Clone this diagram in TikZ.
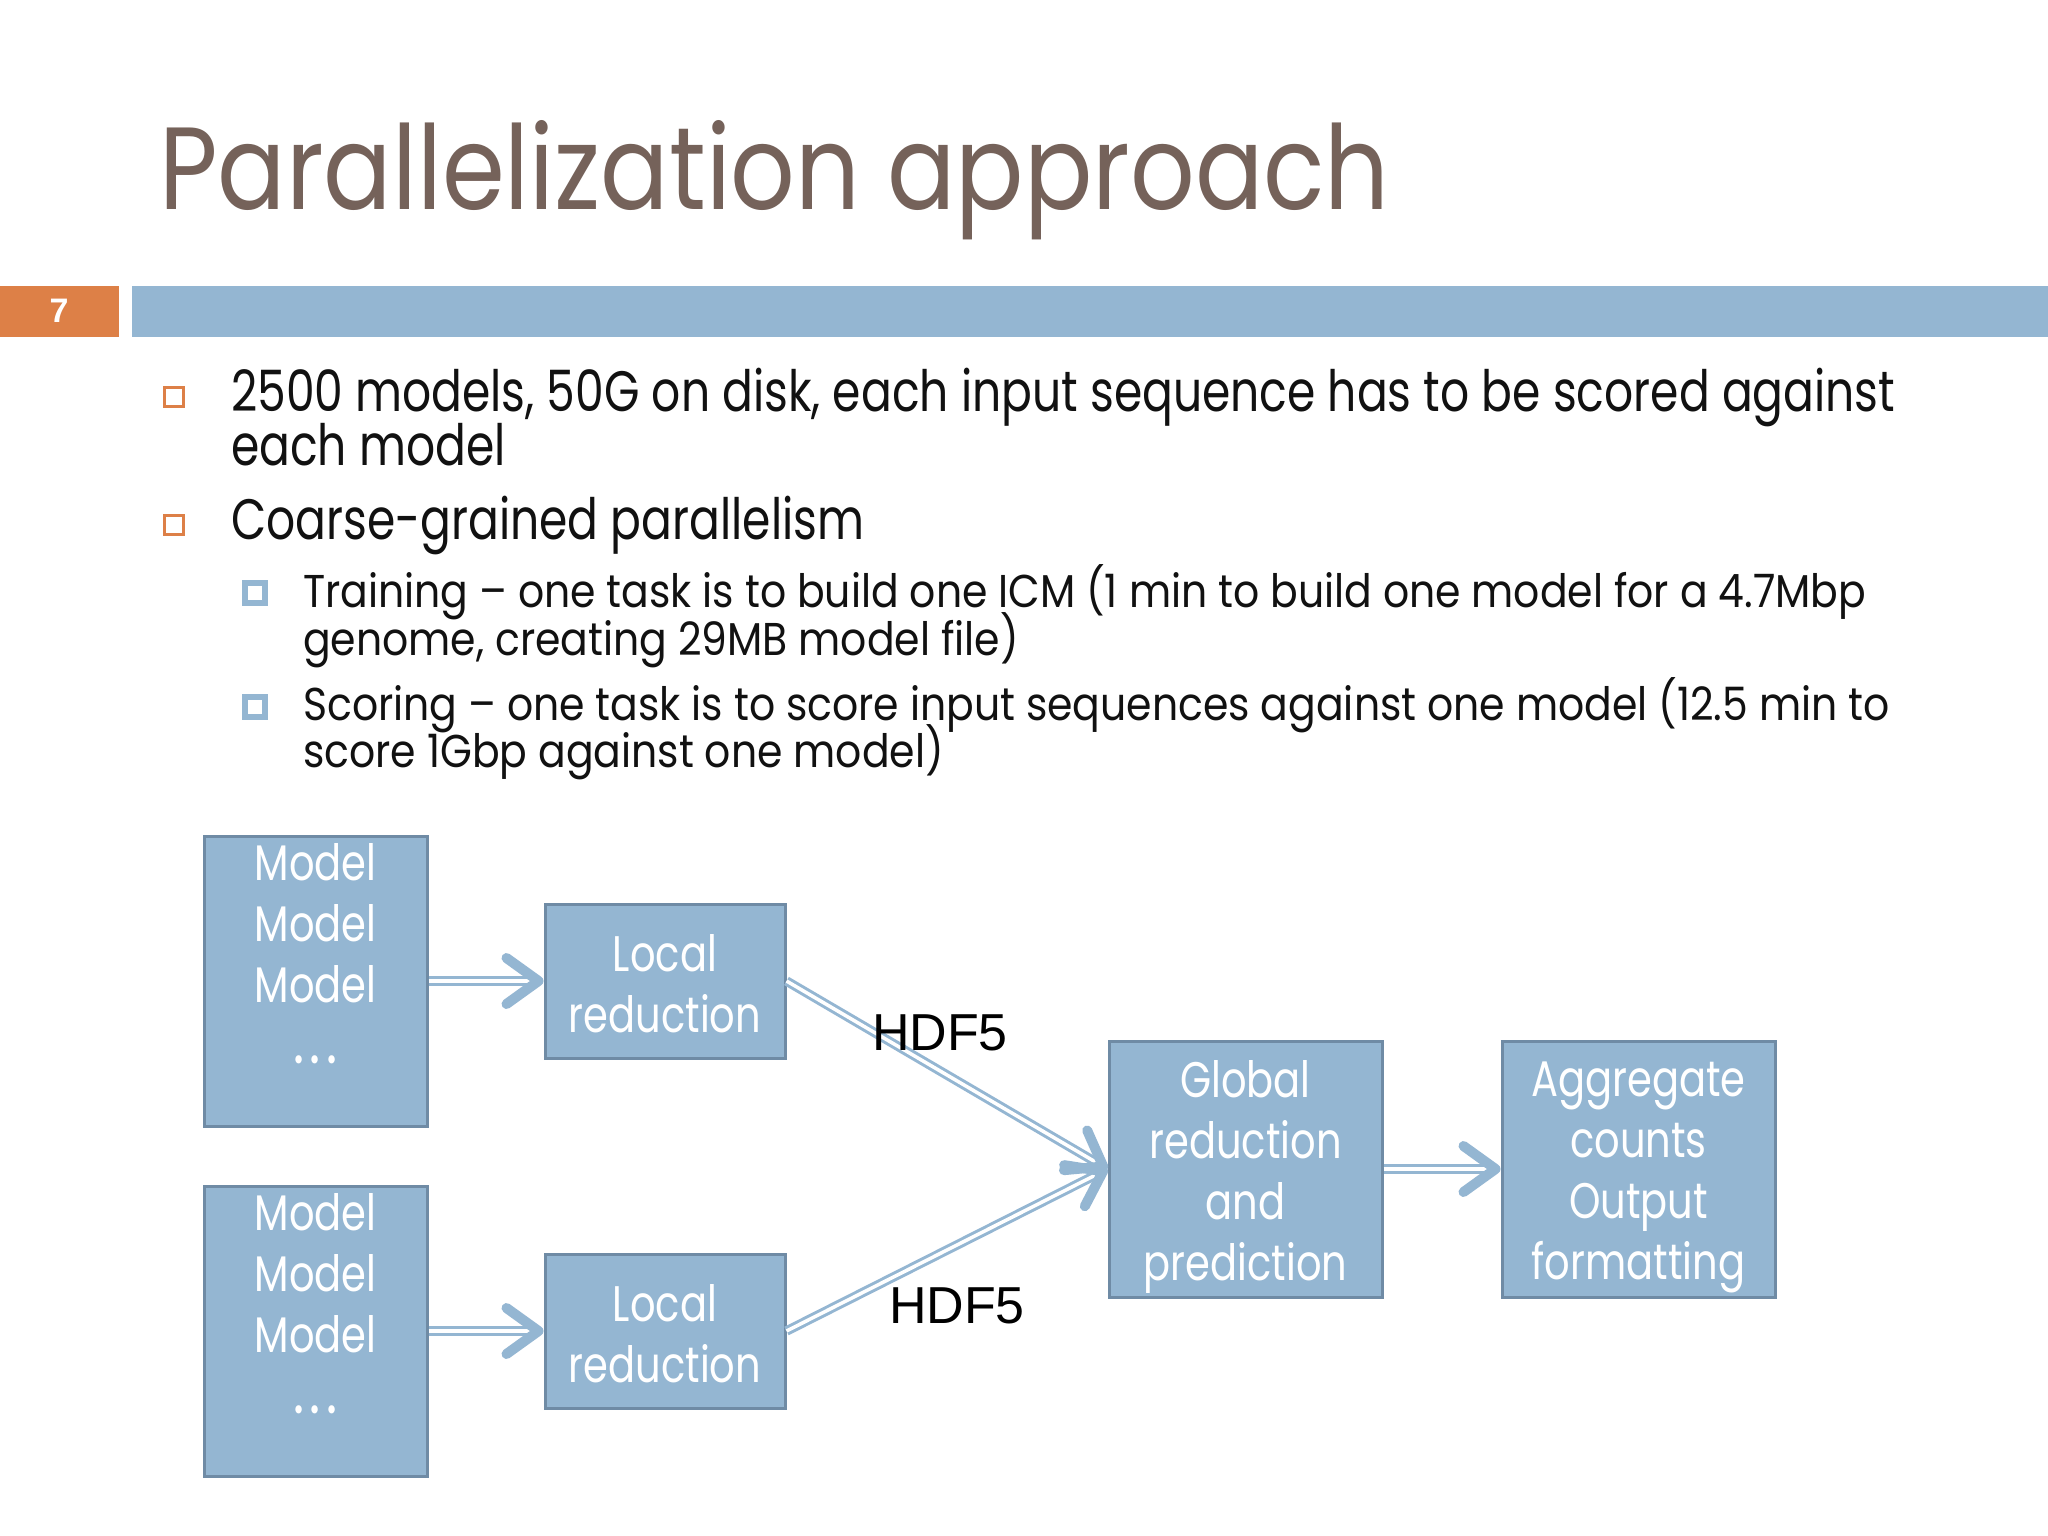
\documentclass[tikz,border=0pt]{standalone}
\usepackage{fontspec}
\usetikzlibrary{arrows.meta,calc}
\newfontfamily\twfont[FakeStretch=0.8]{Poppins}
\newfontfamily\twtitlefont[FakeStretch=0.865]{Poppins}
\newfontfamily\twsubfont[FakeStretch=0.89]{Poppins}
\newfontfamily\arialfont{Liberation Sans}
\definecolor{titlebrown}{HTML}{75625A}
\definecolor{accorange}{HTML}{DD8047}
\definecolor{accblue}{HTML}{94B6D2}
\definecolor{boxedge}{HTML}{6F8BA5}
\definecolor{bodytext}{HTML}{111111}
\tikzset{
  titletext/.style={anchor=base west, inner sep=0, text=titlebrown, font=\twtitlefont\fontsize{117}{117}\selectfont},
  lvlone/.style={anchor=base west, inner sep=0, text=bodytext, font=\twfont\fontsize{57}{57}\selectfont},
  lvltwo/.style={anchor=base west, inner sep=0, text=bodytext, font=\twsubfont\fontsize{46}{46}\selectfont},
  obullet/.style={draw=accorange, line width=2.5pt, fill=white, minimum size=19pt, inner sep=0},
  bbullet/.style={draw=accblue, line width=6.5pt, fill=white, minimum size=20pt, inner sep=0},
  box/.style={draw=boxedge, fill=accblue, line width=3pt, inner sep=0, text=white, align=center, font=\twfont\fontsize{50}{61}\selectfont},
  boxtext/.style={inner sep=0, text=white, align=center, font=\twfont\fontsize{50}{61}\selectfont},
  conn/.style={draw=accblue, line width=3pt, double=white, double distance=3.5pt,
    -{Straight Barb[length=32pt,width=46pt,line width=10pt,round]}},
  hdf/.style={inner sep=0, text=black, font=\arialfont\fontsize{52}{52}\selectfont}
}
\newcommand{\mydots}{{\fontsize{66}{61}\selectfont.\hspace{5pt}.\hspace{5pt}.}}
\begin{document}
\begin{tikzpicture}[x=1pt,y=-1pt]
\useasboundingbox[fill=white] (0,0) rectangle (2048,1536);
% title
\node[titletext] (title) at (159,209) {Parallelization approach};
% header bars
\fill[accorange] (0,286) rectangle (119,337);
\fill[accblue] (132,286) rectangle (2048,337);
\node[inner sep=0, text=white, font=\arialfont\bfseries\fontsize{34}{34}\selectfont] (num) at (59,311) {7};
% bullets
\node[obullet] (b1) at (174,397) {};
\node[obullet] (b2) at (174,525) {};
\node[bbullet] (b3) at (255,593) {};
\node[bbullet] (b4) at (255,707) {};
% body text
\node[lvlone] (t1) at (231,411) {2500 models, 50G on disk, each input sequence has to be scored against};
\node[lvlone] (t2) at (231,465) {each model};
\node[lvlone] (t3) at (231,539) {Coarse-grained parallelism};
\node[lvltwo] (t4) at (303,607) {Training – one task is to build one ICM (1 min to build one model for a 4.7Mbp};
\node[lvltwo] (t5) at (303,655) {genome, creating 29MB model file)};
\node[lvltwo] (t6) at (303,720) {Scoring – one task is to score input sequences against one model (12.5 min to};
\node[lvltwo] (t7) at (303,767) {score 1Gbp against one model)};
% diagram boxes
\node[box, minimum width=223pt, minimum height=290pt] (m1) at (315.5,981) {};
\node[boxtext, anchor=north] (m1t) at (315.5,843) {Model\\Model\\Model\\\mydots};
\node[box, minimum width=223pt, minimum height=290pt] (m2) at (315.5,1331) {};
\node[boxtext, anchor=north] (m2t) at (315.5,1193) {Model\\Model\\Model\\\mydots};
\node[box, minimum width=240pt, minimum height=154pt] (l1) at (665,981) {};
\node[boxtext] (l1t) at (665,984) {Local\\reduction};
\node[box, minimum width=240pt, minimum height=154pt] (l2) at (665,1331) {};
\node[boxtext] (l2t) at (665,1334) {Local\\reduction};
\node[box, minimum width=273pt, minimum height=256pt] (g) at (1245.5,1169) {};
\node[boxtext] (gt) at (1245.5,1177) {Global\\reduction\\and\\prediction};
\node[box, minimum width=273pt, minimum height=256pt] (a) at (1638.5,1169) {};
\node[boxtext] (at) at (1638.5,1177) {Aggregate\\counts\\Output\\formatting};
% connectors
\draw[conn] (m1.east) -- (l1.west);
\draw[conn] (m2.east) -- (l2.west);
\draw[conn] (l1.east) -- (g.west);
\draw[conn] (l2.east) -- (g.west);
\draw[conn] (g.east) -- (a.west);
% labels
\node[hdf] (h1) at (940,1033) {HDF5};
\node[hdf] (h2) at (957,1306) {HDF5};
\end{tikzpicture}
\end{document}
